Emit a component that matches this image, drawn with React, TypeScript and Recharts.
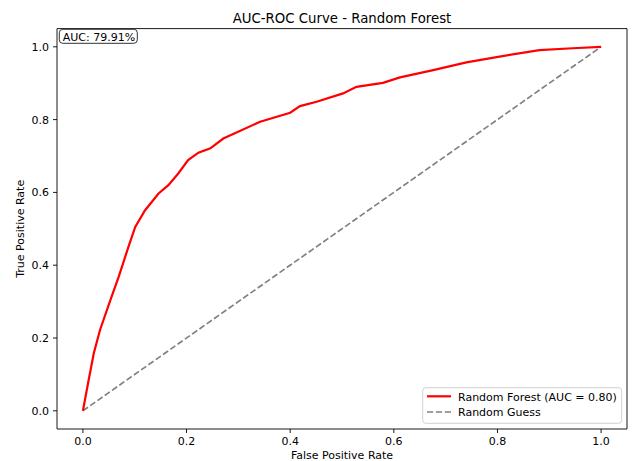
import React from 'react';
import { LineChart, Line, XAxis, YAxis, ReferenceLine } from 'recharts';

const fprValues = [
  0, 0.011, 0.021, 0.033, 0.053, 0.069, 0.088, 0.101, 0.12, 0.146, 0.165, 0.184,
  0.203, 0.223, 0.246, 0.271, 0.342, 0.4, 0.419, 0.451, 0.502, 0.528, 0.579, 0.612,
  0.676, 0.74, 0.804, 0.881, 0.945, 1.0,
];
const tprValues = [
  0, 0.084, 0.158, 0.222, 0.304, 0.368, 0.451, 0.505, 0.551, 0.597, 0.62, 0.652,
  0.689, 0.709, 0.721, 0.748, 0.794, 0.819, 0.837, 0.849, 0.872, 0.89, 0.901, 0.916,
  0.936, 0.957, 0.973, 0.991, 0.996, 1.0,
];
const guessFpr = [0, 1];
const guessTpr = [0, 1];
const xTicks = [0, 0.2, 0.4, 0.6, 0.8, 1.0];
const yTicks = [0, 0.2, 0.4, 0.6, 0.8, 1.0];
const chartTitle = 'AUC-ROC Curve - Random Forest';
const aucLabel = 'AUC: 79.91%';
const seriesNames = ['Random Forest (AUC = 0.80)', 'Random Guess'];
const xLabel = 'False Positive Rate';
const yLabel = 'True Positive Rate';

const rocData = fprValues.map((f, i) => ({ fpr: f, tpr: tprValues[i] }));
const guessData = guessFpr.map((f, i) => ({ fpr: f, tpr: guessTpr[i] }));

const FONT = '"DejaVu Sans", sans-serif';
const tickStyle = { fontSize: 11, fill: '#000', fontFamily: FONT };

export default function App() {
  return (
    <div style={{ position: 'absolute', left: 0, top: 0, width: 633, height: 461, background: '#fff', fontFamily: FONT }}>
      <LineChart width={633} height={461} margin={{ top: 28.6, right: 6, bottom: 12, left: 12 }}>
        <XAxis
          dataKey="fpr"
          type="number"
          domain={[-0.05, 1.05]}
          ticks={xTicks}
          tickFormatter={(v: number) => v.toFixed(1)}
          height={20}
          tickSize={4}
          tickMargin={3.7}
          tick={tickStyle}
          stroke="#000"
          axisLine={{ stroke: '#000', strokeWidth: 0.9 }}
          tickLine={{ stroke: '#000', strokeWidth: 0.9 }}
          allowDataOverflow
          label={{ value: xLabel, position: 'bottom', offset: 2.5, style: { fontSize: 11, fill: '#000', fontFamily: FONT } }}
        />
        <YAxis
          type="number"
          domain={[-0.05, 1.05]}
          ticks={yTicks}
          tickFormatter={(v: number) => v.toFixed(1)}
          width={45}
          tickSize={4}
          tickMargin={4}
          tick={tickStyle}
          axisLine={{ stroke: '#000', strokeWidth: 0.9 }}
          tickLine={{ stroke: '#000', strokeWidth: 0.9 }}
          allowDataOverflow
          label={{ value: yLabel, angle: -90, position: 'insideLeft', offset: 8.5, style: { fontSize: 11, fill: '#000', fontFamily: FONT, textAnchor: 'middle' } }}
        />
        <ReferenceLine y={1.05} stroke="#000" strokeWidth={0.9} />
        <ReferenceLine x={1.05} stroke="#000" strokeWidth={0.9} />
        <Line
          data={guessData}
          dataKey="tpr"
          type="linear"
          stroke="#808080"
          strokeWidth={1.67}
          strokeDasharray="6.2 2.7"
          dot={false}
          activeDot={false}
          isAnimationActive={false}
        />
        <Line
          data={rocData}
          dataKey="tpr"
          type="linear"
          stroke="#ff0000"
          strokeWidth={2.2}
          dot={false}
          activeDot={false}
          isAnimationActive={false}
        />
      </LineChart>
      <svg width={633} height={461} style={{ position: 'absolute', left: 0, top: 0, pointerEvents: 'none' }}>
        <text x={342} y={22.5} textAnchor="middle" fontSize={13.3} fill="#000" fontFamily={FONT}>{chartTitle}</text>
        <rect x={59.3} y={29.3} width={78} height={14} rx={3.5} fill="#fff" stroke="#333" strokeWidth={1} />
        <text x={62.7} y={40.5} fontSize={11} fill="#000" fontFamily={FONT}>{aucLabel}</text>
        <rect x={422.7} y={387.7} width={199} height={35.6} rx={3} fill="#fff" fillOpacity={0.8} stroke="#d0d0d0" strokeWidth={1} />
        <line x1={427} x2={451} y1={396.3} y2={396.3} stroke="#ff0000" strokeWidth={2.2} />
        <text x={458} y={400.8} fontSize={11} fill="#000" fontFamily={FONT}>{seriesNames[0]}</text>
        <line x1={427} x2={451} y1={412} y2={412} stroke="#808080" strokeWidth={1.67} strokeDasharray="6.2 2.7" />
        <text x={458} y={416} fontSize={11} fill="#000" fontFamily={FONT}>{seriesNames[1]}</text>
      </svg>
    </div>
  );
}
